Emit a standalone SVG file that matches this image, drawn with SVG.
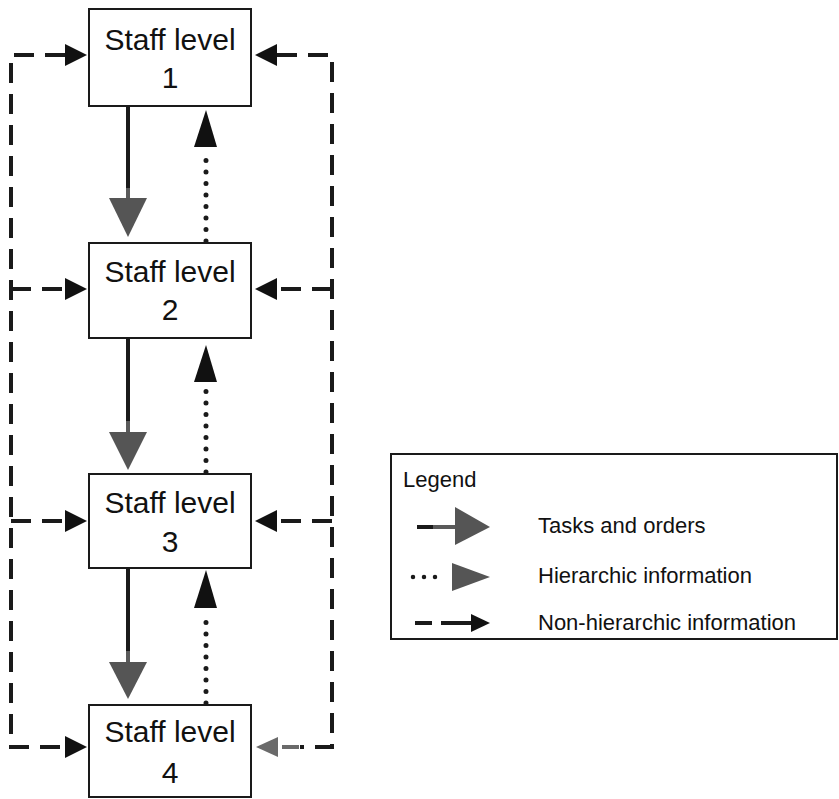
<svg xmlns="http://www.w3.org/2000/svg" width="839" height="799" viewBox="0 0 839 799">
<style>
.box{fill:#fff;stroke:#1a1a1a;stroke-width:2}
.t{font-family:"Liberation Sans",Arial,sans-serif;font-size:30px;fill:#111;text-anchor:middle}
.lg{font-family:"Liberation Sans",Arial,sans-serif;font-size:22px;fill:#111}
.solid{stroke:#1a1a1a;stroke-width:4;fill:none}
.graystub{stroke:#5a5a5a;stroke-width:4;fill:none}
.dot{stroke:#1a1a1a;stroke-width:5;stroke-linecap:round;stroke-dasharray:0 11.5;fill:none}
.dash{stroke:#1a1a1a;stroke-width:4;stroke-dasharray:20 11;fill:none}
.gtri{fill:#555}
.btri{fill:#111}
</style>
<rect width="839" height="799" fill="#fff"/>
<g id="connectors">
  <line class="solid" x1="128" y1="106" x2="128" y2="188"/>
  <line class="graystub" x1="128" y1="188" x2="128" y2="200"/>
  <polygon class="gtri" points="109,198 147,198 128,237"/>
  <line class="solid" x1="128" y1="338" x2="128" y2="421"/>
  <line class="graystub" x1="128" y1="421" x2="128" y2="434"/>
  <polygon class="gtri" points="109,432 147,432 128,470"/>
  <line class="solid" x1="128" y1="568" x2="128" y2="651"/>
  <line class="graystub" x1="128" y1="651" x2="128" y2="664"/>
  <polygon class="gtri" points="109,662 147,662 128,699"/>
  <path class="dot" d="M206,241 V150"/>
  <polygon class="btri" points="194,147 217,147 206,110"/>
  <path class="dot" d="M206,472 V385"/>
  <polygon class="btri" points="194,382 217,382 206,345"/>
  <path class="dot" d="M206,703 V612"/>
  <polygon class="btri" points="194,608 217,608 206,570"/>
  <path class="dash" d="M65,55 H11 V747 H65"/>
  <path class="dash" d="M11,289 H65"/>
  <path class="dash" d="M11,521 H65"/>
  <polygon class="btri" points="65,44 65,66 87,55"/>
  <polygon class="btri" points="65,278 65,300 87,289"/>
  <polygon class="btri" points="65,510 65,532 87,521"/>
  <polygon class="btri" points="65,736 65,758 87,747"/>
  <path class="dash" d="M277,55 H332 V747 H300"/>
  <path class="dash" d="M332,289 H277"/>
  <path class="dash" d="M332,521 H277"/>
  <polygon class="btri" points="277,44 277,66 255,55"/>
  <polygon class="btri" points="277,278 277,300 255,289"/>
  <polygon class="btri" points="277,510 277,532 255,521"/>
  <line x1="282" y1="747" x2="299" y2="747" stroke="#6a6a6a" stroke-width="4"/>
  <polygon points="278,737 278,757 256,747" fill="#6a6a6a"/>
</g>
<g id="node1">
  <rect class="box" x="89" y="9" width="162" height="97"/>
  <text class="t" x="170" y="50">Staff level</text>
  <text class="t" x="170" y="88">1</text>
</g>
<g id="node2">
  <rect class="box" x="89" y="243" width="162" height="95"/>
  <text class="t" x="170" y="282">Staff level</text>
  <text class="t" x="170" y="320">2</text>
</g>
<g id="node3">
  <rect class="box" x="89" y="474" width="162" height="94"/>
  <text class="t" x="170" y="513">Staff level</text>
  <text class="t" x="170" y="552">3</text>
</g>
<g id="node4">
  <rect class="box" x="89" y="705" width="162" height="92"/>
  <text class="t" x="170" y="742">Staff level</text>
  <text class="t" x="170" y="783">4</text>
</g>
<g id="legend">
  <rect x="391" y="454" width="446" height="185" fill="#fff" stroke="#1a1a1a" stroke-width="2"/>
  <text class="lg" x="403" y="487">Legend</text>
  <line x1="417" y1="527" x2="433" y2="527" stroke="#1a1a1a" stroke-width="4"/>
  <line x1="433" y1="527" x2="456" y2="527" stroke="#5a5a5a" stroke-width="4"/>
  <polygon class="gtri" points="455,507 455,545 490,527"/>
  <text class="lg" x="538" y="533">Tasks and orders</text>
  <path d="M413,577 H446" stroke="#1a1a1a" stroke-width="4.5" stroke-linecap="round" stroke-dasharray="0 11" fill="none"/>
  <polygon class="gtri" points="452,563 452,591 490,577"/>
  <text class="lg" x="538" y="583">Hierarchic information</text>
  <line x1="415" y1="623" x2="432" y2="623" stroke="#1a1a1a" stroke-width="4"/>
  <line x1="441" y1="623" x2="472" y2="623" stroke="#1a1a1a" stroke-width="4"/>
  <polygon class="btri" points="471,614 471,632 490,623"/>
  <text class="lg" x="538" y="630">Non-hierarchic information</text>
</g>
</svg>
